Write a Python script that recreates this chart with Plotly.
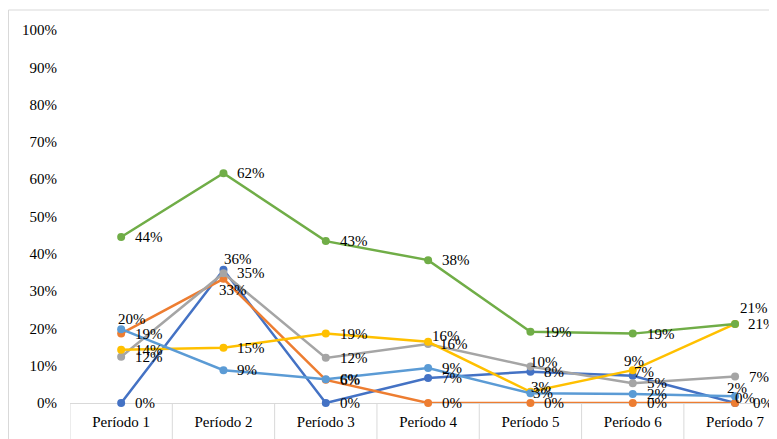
import plotly.graph_objects as go

categories = ["Período 1", "Período 2", "Período 3", "Período 4", "Período 5", "Período 6", "Período 7"]

serie_azul = [0.0, 0.357, 0.0, 0.067, 0.084, 0.073, 0.0]
serie_naranja = [0.186, 0.333, 0.062, 0.0, 0.0, 0.0, 0.0]
serie_gris = [0.124, 0.348, 0.121, 0.158, 0.098, 0.053, 0.071]
serie_amarilla = [0.143, 0.148, 0.186, 0.164, 0.030, 0.088, 0.212]
serie_celeste = [0.198, 0.088, 0.064, 0.094, 0.026, 0.024, 0.018]
serie_verde = [0.445, 0.616, 0.434, 0.383, 0.191, 0.186, 0.212]

y_ticks = [0, 0.1, 0.2, 0.3, 0.4, 0.5, 0.6, 0.7, 0.8, 0.9, 1.0]

series = [
    ("Serie 1", serie_azul, "#4472C4"),
    ("Serie 2", serie_naranja, "#ED7D31"),
    ("Serie 3", serie_gris, "#A5A5A5"),
    ("Serie 4", serie_amarilla, "#FFC000"),
    ("Serie 5", serie_celeste, "#5B9BD5"),
    ("Serie 6", serie_verde, "#70AD47"),
]

# label placement overrides: (series index, point index) -> (xanchor, xshift, yshift)
DEFAULT_LABEL = ("left", 12, 0)
label_override = {
    (4, 0): ("left", -5, 10),
    (0, 1): ("left", -1, 11),
    (1, 1): ("center", 10, -11),
    (3, 3): ("left", 2, 6),
    (2, 3): ("left", 10, 0),
    (2, 4): ("left", -2, 4),
    (3, 4): ("left", -1, 5),
    (4, 4): ("left", 1, 0),
    (3, 5): ("center", 1, 9),
    (0, 5): ("left", -1, 4),
    (3, 6): ("left", 3, 16),
    (4, 6): ("center", 2, 8),
    (0, 6): ("left", -2, 5),
    (1, 6): ("left", 16, 0),
    (5, 6): ("left", 11, 0),
}

FONT = "Liberation Serif"

fig = go.Figure()
annotations = []
for si, (name, vals, color) in enumerate(series):
    fig.add_trace(go.Scatter(
        x=categories, y=vals, name=name, mode="lines+markers",
        line=dict(color=color, width=2.5),
        marker=dict(color=color, size=8),
        cliponaxis=False, showlegend=False,
    ))
    for pi, v in enumerate(vals):
        xa, xs, ys = label_override.get((si, pi), DEFAULT_LABEL)
        annotations.append(dict(
            x=categories[pi], y=v, xref="x", yref="y",
            text=f"{round(v * 100):.0f}%", showarrow=False,
            xanchor=xa, yanchor="middle", xshift=xs, yshift=ys,
            font=dict(family=FONT, size=15, color="#000000"),
        ))

shapes = []
n_cat = len(categories)
for i in range(n_cat):
    shapes.append(dict(type="line", xref="x", yref="paper",
                       x0=i - 0.5, x1=i - 0.5, y0=0, y1=-0.12,
                       line=dict(color="#D9D9D9", width=1)))
# chart area border (left and top)
shapes.append(dict(type="line", xref="paper", yref="paper",
                   x0=-0.0870, x1=-0.0870, y0=1.0536, y1=-0.12,
                   line=dict(color="#D9D9D9", width=1)))
shapes.append(dict(type="line", xref="paper", yref="paper",
                   x0=-0.0870, x1=1.0, y0=1.0536, y1=1.0536,
                   line=dict(color="#D9D9D9", width=1)))

fig.update_layout(
    width=769, height=431,
    margin=dict(l=62, r=0, t=22, b=36, autoexpand=False),
    paper_bgcolor="white", plot_bgcolor="white",
    font=dict(family=FONT, size=15, color="#000000"),
    annotations=annotations, shapes=shapes,
    xaxis=dict(
        type="category", range=[-0.5, 6.41],
        showgrid=False, zeroline=False, automargin=False,
        showline=True, linecolor="#D9D9D9", linewidth=1, layer="below traces",
        ticks="", ticklabelstandoff=5,
        tickfont=dict(family=FONT, size=15, color="#000000"),
    ),
    yaxis=dict(
        range=[0, 1.0], tickvals=y_ticks, tickformat=".0%",
        showgrid=False, zeroline=False, showline=False, automargin=False,
        ticks="", ticklabelstandoff=12,
        tickfont=dict(family=FONT, size=15, color="#000000"),
    ),
)

fig.write_html("out.html")
